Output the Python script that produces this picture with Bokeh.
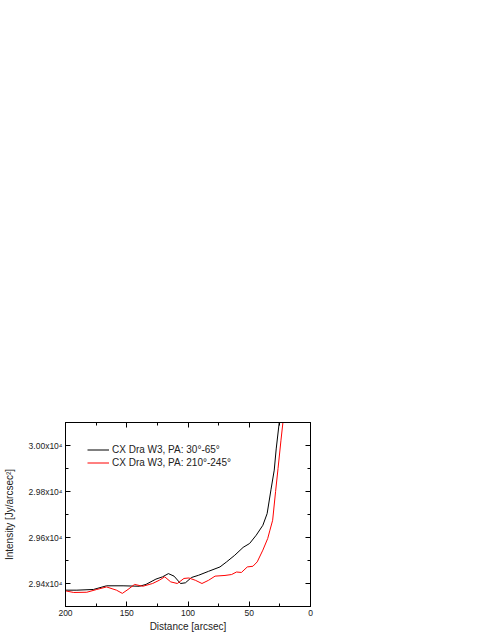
from bokeh.plotting import figure
from bokeh.models import Range1d, LinearAxis, FixedTicker, Legend, LegendItem
from bokeh.embed import file_html
from bokeh.resources import INLINE

# ---- data ----
dist_pa1 = [200, 190.7, 177.2, 166.5, 153.0, 139.6, 134.3, 126.2, 120.8, 116.0, 111.4,
            106.1, 102.1, 97.2, 91.3, 83.2, 73.9, 68.5, 61.8, 55.0, 49.7, 44.3, 38.9,
            35.4, 32.2, 29.6, 28.0, 25.5, 24.5]
int_pa1 = [29371, 29371, 29374, 29390, 29390, 29388, 29396, 29419, 29429, 29443, 29432,
           29400, 29403, 29426, 29436, 29453, 29472, 29494, 29523, 29557, 29574, 29610, 29653,
           29704, 29810, 29893, 29985, 30101, 30160]

dist_pa2 = [200, 193.3, 182.6, 174.5, 166.5, 158.4, 153.6, 149.0, 143.6, 136.9, 128.9,
            123.5, 119.0, 114.1, 108.7, 103.3, 99.3, 94.0, 88.6, 83.2, 77.9, 69.8, 64.4,
            60.4, 56.4, 51.6, 47.0, 43.5, 38.9, 34.9, 33.1, 30.9, 28.5, 26.5, 24.1, 22.5, 21.7]
int_pa2 = [29368, 29361, 29362, 29374, 29385, 29371, 29357, 29374, 29396, 29388, 29400,
           29414, 29429, 29407, 29400, 29422, 29424, 29414, 29400, 29414, 29432, 29435, 29439,
           29450, 29448, 29472, 29475, 29494, 29545, 29596, 29632, 29675, 29800, 29900, 30023, 30101, 30150]

series_labels = ["CX Dra W3, PA: 30\u00b0-65\u00b0", "CX Dra W3, PA: 210\u00b0-245\u00b0"]

x_ticks = [200, 150, 100, 50, 0]
x_minor = [175, 125, 75, 25]
y_ticks = [29400, 29600, 29800, 30000]
y_minor = [29300, 29500, 29700, 29900, 30100]
y_tick_labels = ["2.94x10\u2074", "2.96x10\u2074", "2.98x10\u2074", "3.00x10\u2074"]

FONT = "Liberation Sans"
TXT = "#222222"

p = figure(width=491, height=635, output_backend="svg", toolbar_location=None,
           x_range=Range1d(200, 0), y_range=Range1d(29300, 30100),
           min_border_left=62, min_border_right=181, min_border_top=422, min_border_bottom=29)
p.xgrid.visible = False
p.ygrid.visible = False
p.outline_line_color = "black"
p.outline_line_width = 1
p.background_fill_color = "white"
p.border_fill_color = "white"

def style_axis(ax, ticks, minor):
    ax.ticker = FixedTicker(ticks=ticks, minor_ticks=minor)
    ax.major_tick_in = 5
    ax.major_tick_out = 0
    ax.minor_tick_in = 3
    ax.minor_tick_out = 0
    ax.axis_line_color = "black"
    ax.major_tick_line_color = "black"
    ax.minor_tick_line_color = "black"
    ax.major_label_text_font = FONT
    ax.major_label_text_font_size = "8.5px"
    ax.major_label_text_color = TXT
    ax.major_label_standoff = 3
    ax.axis_label_text_font = FONT
    ax.axis_label_text_font_size = "10px"
    ax.axis_label_text_font_style = "normal"
    ax.axis_label_text_color = TXT
    ax.axis_label_standoff = 2

xa = p.xaxis[0]
style_axis(xa, x_ticks, x_minor)
xa.axis_label = "Distance [arcsec]"

ya = p.yaxis[0]
style_axis(ya, y_ticks, y_minor)
ya.major_label_overrides = {t: l for t, l in zip(y_ticks, y_tick_labels)}
ya.axis_label = "Intensity [Jy/arcsec\u00b2]"
ya.axis_label_standoff = 11

top = LinearAxis()
style_axis(top, x_ticks, x_minor)
top.major_label_overrides = {t: "" for t in x_ticks}
p.add_layout(top, "above")
right = LinearAxis()
style_axis(right, y_ticks, y_minor)
right.major_label_overrides = {t: "" for t in y_ticks}
p.add_layout(right, "right")

r1 = p.line(dist_pa1, int_pa1, line_color="#000000", line_width=1)
r2 = p.line(dist_pa2, int_pa2, line_color="#ff0000", line_width=1)

legend = Legend(items=[LegendItem(label=series_labels[0], renderers=[r1]),
                       LegendItem(label=series_labels[1], renderers=[r2])],
                location=(22, 137))
legend.padding = 0
legend.margin = 0
legend.spacing = 0
legend.border_line_color = None
legend.background_fill_alpha = 0
legend.glyph_width = 22
legend.glyph_height = 13
legend.label_height = 13
legend.label_standoff = 3
legend.label_text_font = FONT
legend.label_text_font_size = "10px"
legend.label_text_color = TXT
p.add_layout(legend, "center")

open("out.html", "w").write(file_html(p, INLINE))
